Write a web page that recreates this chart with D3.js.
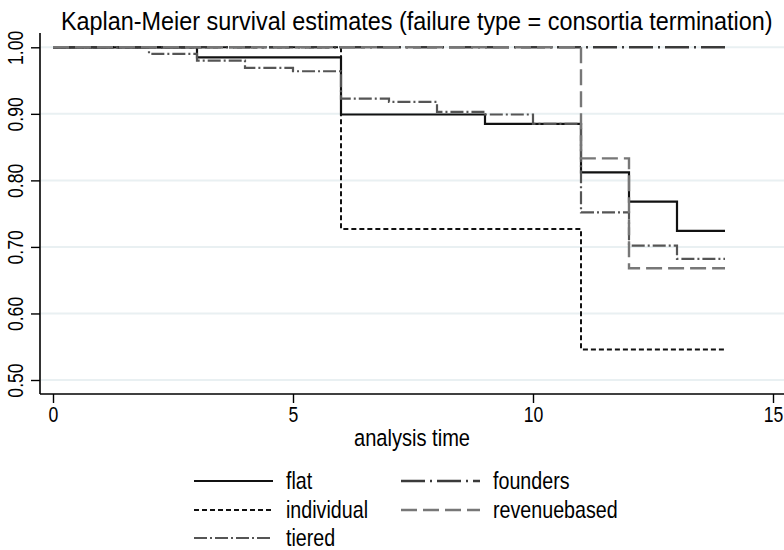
<!DOCTYPE html>
<html><head><meta charset="utf-8">
<script src="https://cdn.jsdelivr.net/npm/d3@7"></script>
<style>body{margin:0;background:#fff}</style>
</head><body>
<svg id="c" width="784" height="550"></svg>
<script>
// ---- data ----
const seriesNames = ["flat","individual","tiered","founders","revenuebased"];
const flatTimes = [0,3,6,9,11,12,13,14];
const flatSurv  = [1,0.985,0.899,0.885,0.812,0.768,0.724,0.724];
const individualTimes = [0,6,11,14];
const individualSurv  = [1,0.727,0.546,0.546];
const tieredTimes = [0,2,3,4,5,6,7,8,9,10,11,12,13,14];
const tieredSurv  = [1,0.99,0.98,0.969,0.964,0.923,0.918,0.903,0.899,0.885,0.752,0.702,0.682,0.682];
const foundersTimes = [0,14];
const foundersSurv  = [1,1];
const revenueTimes = [0,11,12,14];
const revenueSurv  = [1,0.833,0.668,0.668];
const xTicks = [0,5,10,15];
const yTicks = [0.5,0.6,0.7,0.8,0.9,1.0];
const titleText = "Kaplan-Meier survival estimates (failure type = consortia termination)";
const xLabel = "analysis time";

// ---- font detection ----
function hasFont(f){
  const c=document.createElement("canvas").getContext("2d");
  c.font="40px monospace"; const a=c.measureText("individual 0123").width;
  c.font='40px "'+f+'", monospace'; const b=c.measureText("individual 0123").width;
  return Math.abs(a-b)>0.5;
}
const narrow = hasFont("Liberation Sans Narrow");
const FONT = narrow ? '"Liberation Sans Narrow", "Arial Narrow", sans-serif' : '"Liberation Sans", Arial, sans-serif';
const SX = narrow ? 1 : 0.82;

const svg = d3.select("#c");
const x = d3.scaleLinear().domain([0,15]).range([53,773]);
const y = d3.scaleLinear().domain([0.5,1.0]).range([380,47.3]);
const pLeft = 40, pRight = 784, pTop = 33, pBottom = 394;

// gridlines
svg.append("g").selectAll("line").data(yTicks).join("line")
  .attr("x1",pLeft+1).attr("x2",pRight).attr("y1",d=>y(d)).attr("y2",d=>y(d))
  .attr("stroke","#e9f0f2").attr("stroke-width",2);

// axes
const yAxis = d3.axisLeft(y).tickValues(yTicks).tickSize(9).tickFormat(d3.format(".2f"));
const gy = svg.append("g").attr("transform",`translate(${pLeft},0)`).call(yAxis);
gy.select(".domain").attr("d",`M0,${pTop}V${pBottom}`).attr("stroke","#000").attr("stroke-width",1.6);
gy.selectAll(".tick line").attr("stroke","#000").attr("stroke-width",1.4);
gy.selectAll(".tick text").remove();
gy.selectAll(".tick").append("text")
  .attr("transform",`translate(-17,0) rotate(-90) scale(${SX},1)`)
  .attr("text-anchor","middle").attr("fill","#000")
  .style("font-family",FONT).style("font-size","21.5px")
  .text(d=>d3.format(".2f")(d));

const xAxis = d3.axisBottom(x).tickValues(xTicks).tickSize(9).tickFormat(d3.format("d"));
const gx = svg.append("g").attr("transform",`translate(0,${pBottom})`).call(xAxis);
gx.select(".domain").attr("d",`M${pLeft},0H${pRight}`).attr("stroke","#000").attr("stroke-width",1.6);
gx.selectAll(".tick line").attr("stroke","#000").attr("stroke-width",1.4);
gx.selectAll(".tick text").remove();
gx.selectAll(".tick").append("text")
  .attr("transform",`translate(0,28) scale(${SX},1)`)
  .attr("text-anchor","middle").attr("fill","#000")
  .style("font-family",FONT).style("font-size","21.5px")
  .text(d=>d);

// curves
const styles = {
  flat:{color:"#111",dash:null,w:2.2},
  individual:{color:"#111",dash:"5,3",w:2},
  tiered:{color:"#555",dash:"13,3,2,3",w:2.2},
  founders:{color:"#3a3a3a",dash:"24,5,2,5",w:2.6},
  revenuebased:{color:"#777",dash:"16,6",w:2.4}
};
const data = {
  flat: flatTimes.map((t,i)=>[t,flatSurv[i]]),
  individual: individualTimes.map((t,i)=>[t,individualSurv[i]]),
  tiered: tieredTimes.map((t,i)=>[t,tieredSurv[i]]),
  founders: foundersTimes.map((t,i)=>[t,foundersSurv[i]]),
  revenuebased: revenueTimes.map((t,i)=>[t,revenueSurv[i]])
};
const line = d3.line().x(d=>x(d[0])).y(d=>y(d[1])).curve(d3.curveStepAfter);
seriesNames.forEach(n=>{
  const s=styles[n];
  svg.append("path").datum(data[n]).attr("d",line)
    .attr("fill","none").attr("stroke",s.color).attr("stroke-width",s.w)
    .attr("stroke-dasharray",s.dash);
});

// title: regular sans compressed horizontally to the reference width
svg.append("text")
  .attr("transform","translate(61,29.5) scale(0.9,1)")
  .style("font-family",'"Liberation Sans", Arial, sans-serif').style("font-size","26px").attr("fill","#000")
  .text(titleText);

// x label
svg.append("text").attr("transform",`translate(412,446) scale(${SX},1)`)
  .attr("text-anchor","middle")
  .style("font-family",FONT).style("font-size","24.5px").attr("fill","#000")
  .text(xLabel);

// legend
const legPos = [[194,481],[194,510],[194,538],[401,481],[401,510]];
seriesNames.forEach((n,i)=>{
  const s=styles[n]; const [lx,ly]=legPos[i];
  svg.append("line").attr("x1",lx).attr("x2",lx+79).attr("y1",ly).attr("y2",ly)
    .attr("stroke",s.color).attr("stroke-width",s.w).attr("stroke-dasharray",s.dash);
  svg.append("text").attr("transform",`translate(${lx+92},${ly+7.5}) scale(${SX},1)`)
    .style("font-family",FONT).style("font-size","24px").attr("fill","#000")
    .text(n);
});
</script>
</body></html>
